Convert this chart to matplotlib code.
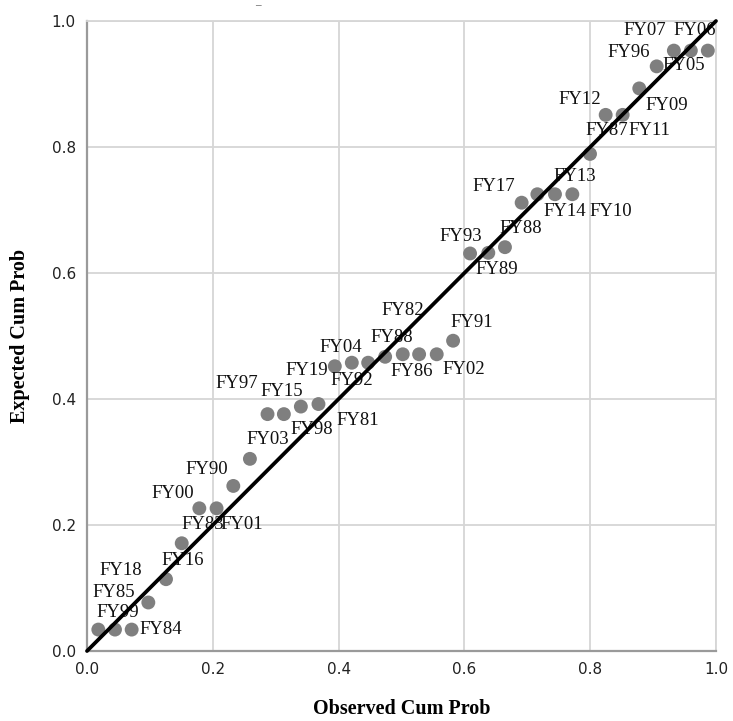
import matplotlib
matplotlib.use("Agg")
import matplotlib.pyplot as plt

labels = ["FY99", "FY85", "FY84", "FY18", "FY16", "FY83", "FY00", "FY01", "FY90", "FY03",
          "FY97", "FY15", "FY98", "FY81", "FY19", "FY04", "FY92", "FY88", "FY82", "FY86",
          "FY02", "FY91", "FY93", "FY89", "FY88", "FY17", "FY13", "FY14", "FY10", "FY87",
          "FY12", "FY11", "FY09", "FY96", "FY07", "FY05", "FY06"]
observed = [0.018, 0.0445, 0.071, 0.0975, 0.1256, 0.1506, 0.1786, 0.206, 0.2326, 0.259,
            0.287, 0.313, 0.340, 0.368, 0.394, 0.421, 0.447, 0.474, 0.502, 0.528,
            0.556, 0.582, 0.609, 0.638, 0.6645, 0.691, 0.716, 0.744, 0.7716, 0.7997,
            0.8246, 0.8516, 0.878, 0.9057, 0.933, 0.960, 0.987]
expected = [0.034, 0.034, 0.034, 0.077, 0.114, 0.171, 0.2265, 0.2265, 0.262, 0.305,
            0.376, 0.376, 0.388, 0.392, 0.452, 0.4576, 0.4576, 0.467, 0.471, 0.471,
            0.471, 0.4925, 0.631, 0.632, 0.641, 0.7116, 0.725, 0.725, 0.725, 0.789,
            0.851, 0.851, 0.893, 0.928, 0.953, 0.953, 0.953]
ticks = [0.0, 0.2, 0.4, 0.6, 0.8, 1.0]

# label offsets in pixels (dx right, dy down) - style only
label_offsets = [(19, -17), (-1, -37), (29, 0), (-28, -32), (17, -19), (21, -19), (-27, -15),
                 (25, 16), (-27, -16), (18, -19), (-31, -31), (-2, -23), (11, 23), (39, 16),
                 (-28, 4), (-11, -15), (-16, 18), (7, -19), (0, -44), (-7, 17), (27, 15),
                 (19, -18), (-9, -17), (8, 17), (16, -19), (-28, -16), (37, -18), (10, 17),
                 (38, 17), (17, -23), (-26, -15), (27, 16), (28, 17), (-28, -14), (-29, -20),
                 (-7, 15), (-13, -20)]

fig = plt.figure(figsize=(7.33, 7.21), dpi=100)
ax = fig.add_axes([87/733, 70/721, 629/733, 630/721])
ax.set_xlim(0, 1)
ax.set_ylim(0, 1)

ax.set_xticks(ticks)
ax.set_yticks(ticks)
ax.set_xticklabels([f"{t:.1f}" for t in ticks])
ax.set_yticklabels([f"{t:.1f}" for t in ticks])
ax.tick_params(length=0, labelsize=11, colors="#222222", pad=8)
for lab in ax.get_xticklabels() + ax.get_yticklabels():
    lab.set_family("DejaVu Sans")
ax.grid(True, color="#d6d6d6", linewidth=1.3)
ax.set_axisbelow(True)
for side in ["top", "right"]:
    ax.spines[side].set_color("#d6d6d6")
    ax.spines[side].set_linewidth(1.3)
for side in ["left", "bottom"]:
    ax.spines[side].set_color("#9a9a9a")
    ax.spines[side].set_linewidth(1.6)

ax.scatter(observed, expected, s=100, color="#7f7f7f", edgecolors="none", zorder=2)

for lab, x, y, (dx, dy) in zip(labels, observed, expected, label_offsets):
    ax.annotate(lab, (x, y), xytext=(dx, -dy), textcoords="offset pixels",
                ha="center", va="center", fontsize=13.5, family="Liberation Serif",
                color="#111111", zorder=3)

ax.plot([0, 1], [0, 1], color="black", linewidth=2.7, solid_capstyle="round",
        zorder=4, clip_on=False)

ax.set_xlabel("Observed Cum Prob", family="Liberation Serif", fontweight="bold",
              fontsize=14.5, va="center")
ax.set_ylabel("Expected Cum Prob", family="Liberation Serif", fontweight="bold",
              fontsize=14.5, va="center")
ax.xaxis.set_label_coords(0.5, -58/630)
ax.yaxis.set_label_coords(-67/629, 0.5)

# small title remnant at the top
fig.text(258/733, 1 - 6/721, "\u2013", ha="center", va="center", fontsize=8,
         family="Liberation Serif", color="#333333")

fig.savefig("out.png", dpi=100)
